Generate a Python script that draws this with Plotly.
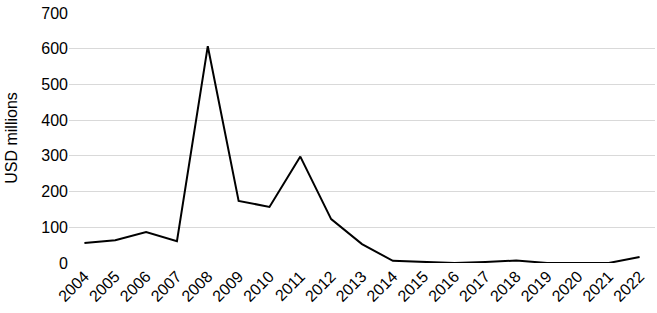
import plotly.graph_objects as go

years = [str(y) for y in range(2004, 2023)]
values = [56, 64, 87, 61, 607, 174, 157, 298, 123, 53, 6, 3, 0, 3, 7, 0, 0, 0, 17]

fig = go.Figure(go.Scatter(x=years, y=values, mode="lines",
                           line=dict(color="black", width=2)))
fig.update_layout(
    width=657, height=313,
    margin=dict(l=69, r=2, t=13, b=50),
    plot_bgcolor="white", paper_bgcolor="white",
    font=dict(family="Liberation Sans, Arial, sans-serif", size=16, color="black"),
    showlegend=False,
)
fig.update_xaxes(type="category", tickangle=-45, showgrid=False, showline=False,
                 ticks="", range=[-0.5, 18.5], tickfont=dict(size=16),
                 automargin=False)
fig.update_yaxes(range=[0, 700], dtick=100, showgrid=True, gridcolor="#d9d9d9",
                 gridwidth=1, zeroline=False, showline=False, ticks="",
                 title=dict(text="USD millions", standoff=19, font=dict(size=16)),
                 tickfont=dict(size=16), automargin=False)
fig.write_html("out.html", config={"displayModeBar": False},
               post_script="document.body.style.margin='0';document.body.style.padding='0';")
